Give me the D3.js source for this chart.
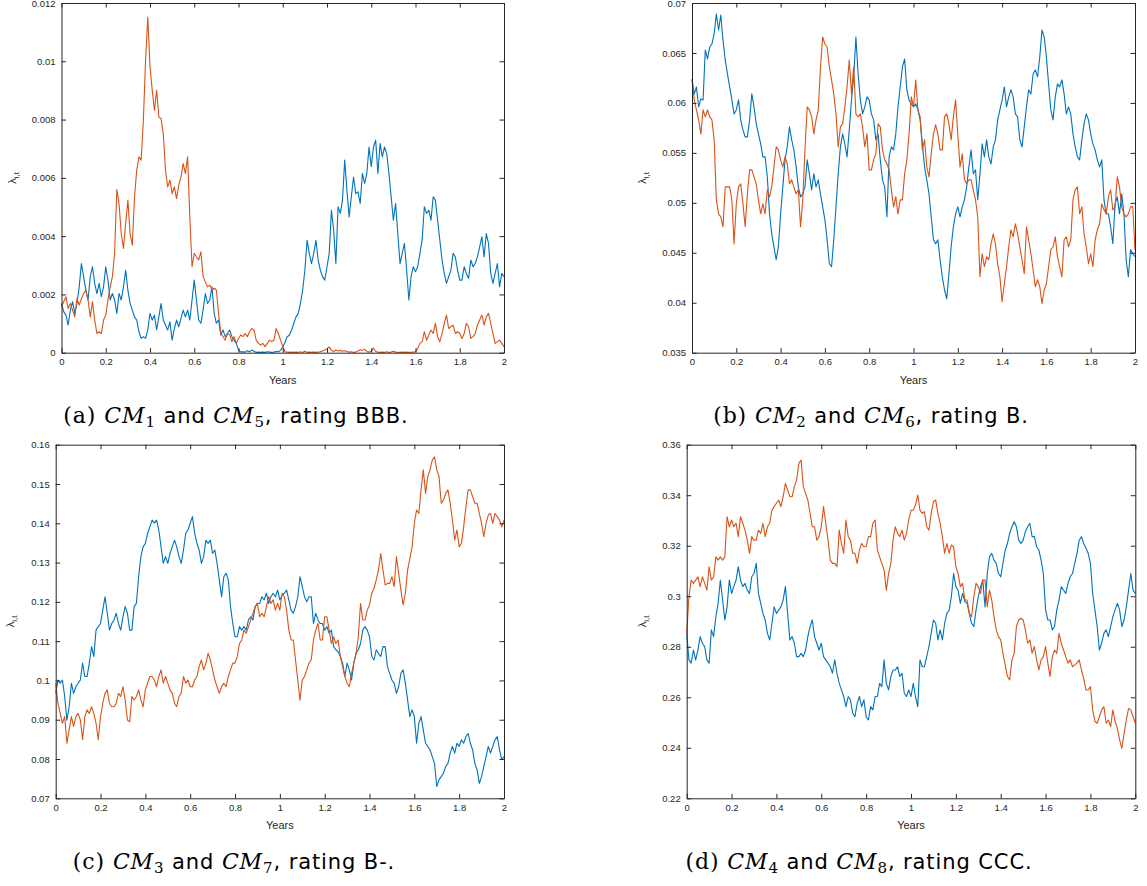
<!DOCTYPE html>
<html>
<head>
<meta charset="utf-8">
<script src="https://cdn.jsdelivr.net/npm/d3@7"></script>
<style>
  body { margin: 0; background: #fff; }
  svg { display: block; }
</style>
</head>
<body>
<svg id="fig" width="1147" height="886"></svg>
<script>
// Sampling grid (years), one point every 0.01 year
const years = d3.range(201).map(i => i / 100);
const xTicks = [0, 0.2, 0.4, 0.6, 0.8, 1, 1.2, 1.4, 1.6, 1.8, 2];

// Default intensities, rating BBB
const cm1 = [
  0.00169,0.00141,0.00129,0.00095,0.00146,0.00175,0.00135,0.00169,0.00226,0.00306,
  0.00261,0.00215,0.00181,0.00261,0.00295,0.00238,0.00203,0.00238,0.00192,0.00226,
  0.00295,0.00249,0.00181,0.00203,0.00181,0.00135,0.00203,0.00181,0.00226,0.00283,
  0.00215,0.00169,0.00146,0.00123,0.00112,0.00072,0.00049,0.00055,0.00049,0.00078,
  0.00135,0.00112,0.00129,0.00078,0.00123,0.00169,0.00112,0.00095,0.00078,0.00106,
  0.00043,0.00083,0.00112,0.00089,0.00118,0.00146,0.00123,0.00146,0.00112,0.00181,
  0.00249,0.00181,0.00112,0.00101,0.00146,0.00203,0.00169,0.00181,0.00226,0.00135,
  0.00101,0.00112,0.00061,0.00078,0.00055,0.00066,0.00078,0.00055,0.00043,0.00032,
  0.00009,0.00003,0.00003,0.00002,0.00007,0.00003,0.00009,0.00005,0.00001,0.00002,
  0.00001,0.00002,0.00001,0.00003,0.00002,0.00001,0.00002,0.00004,0.00003,0.00008,
  0.00020,0.00035,0.00055,0.00060,0.00078,0.00101,0.00123,0.00135,0.00169,0.00215,
  0.00283,0.00386,0.00341,0.00306,0.00341,0.00386,0.00318,0.00283,0.00261,0.00249,
  0.00295,0.00341,0.00489,0.00421,0.00306,0.00501,0.00478,0.00523,0.00661,0.00558,
  0.00466,0.00535,0.00603,0.00546,0.00552,0.00512,0.00615,0.00581,0.00615,0.00706,
  0.00638,0.00706,0.00729,0.00615,0.00718,0.00672,0.00706,0.00683,0.00615,0.00535,
  0.00455,0.00512,0.00409,0.00306,0.00341,0.00375,0.00283,0.00181,0.00261,0.00295,
  0.00278,0.00295,0.00341,0.00386,0.00501,0.00478,0.00489,0.00455,0.00535,0.00523,
  0.00455,0.00386,0.00318,0.00272,0.00238,0.00261,0.00283,0.00341,0.00329,0.00283,
  0.00249,0.00249,0.00295,0.00272,0.00255,0.00318,0.00295,0.00306,0.00329,0.00363,
  0.00398,0.00329,0.00409,0.00375,0.00272,0.00238,0.00272,0.00306,0.00226,0.00272,
  0.00261
];
const cm5 = [
  0.00158,0.00175,0.00192,0.00152,0.00169,0.00146,0.00123,0.00186,0.00163,0.00186,
  0.00203,0.00215,0.00181,0.00123,0.00175,0.00112,0.00066,0.00072,0.00066,0.00112,
  0.00129,0.00181,0.00226,0.00261,0.00340,0.00560,0.00512,0.00409,0.00358,0.00443,
  0.00523,0.00409,0.00369,0.00535,0.00626,0.00672,0.00661,0.00798,0.01003,0.01152,
  0.00981,0.00901,0.00832,0.00901,0.00809,0.00803,0.00752,0.00626,0.00569,0.00592,
  0.00546,0.00569,0.00529,0.00575,0.00603,0.00649,0.00615,0.00672,0.00466,0.00295,
  0.00341,0.00329,0.00318,0.00346,0.00261,0.00243,0.00226,0.00232,0.00215,0.00221,
  0.00215,0.00135,0.00066,0.00055,0.00043,0.00066,0.00061,0.00038,0.00055,0.00032,
  0.00049,0.00061,0.00055,0.00066,0.00055,0.00072,0.00083,0.00078,0.00043,0.00032,
  0.00026,0.00032,0.00021,0.00032,0.00043,0.00038,0.00043,0.00083,0.00066,0.00043,
  0.00021,0.00003,0.00002,0.00001,0.00002,0.00001,0.00002,0.00001,0.00003,0.00001,
  0.00005,0.00001,0.00002,0.00001,0.00002,0.00001,0.00002,0.00003,0.00006,0.00009,
  0.00014,0.00020,0.00008,0.00004,0.00009,0.00006,0.00008,0.00005,0.00007,0.00004,
  0.00002,0.00003,0.00001,0.00002,0.00006,0.00010,0.00008,0.00012,0.00004,0.00002,
  0.00005,0.00016,0.00004,0.00002,0.00001,0.00002,0.00001,0.00003,0.00001,0.00002,
  0.00005,0.00002,0.00001,0.00001,0.00002,0.00001,0.00002,0.00001,0.00001,0.00002,
  0.00003,0.00015,0.00032,0.00038,0.00072,0.00043,0.00061,0.00078,0.00066,0.00101,
  0.00055,0.00038,0.00066,0.00101,0.00129,0.00083,0.00089,0.00095,0.00066,0.00072,
  0.00066,0.00049,0.00066,0.00101,0.00089,0.00049,0.00055,0.00066,0.00095,0.00112,
  0.00129,0.00095,0.00123,0.00135,0.00101,0.00066,0.00032,0.00038,0.00043,0.00032,
  0.00021
];

// Default intensities, rating B
const cm2 = [
  0.0624,0.0609,0.0616,0.0596,0.0604,0.0603,0.0653,0.0644,0.0656,0.0659,
  0.0669,0.0689,0.0673,0.0688,0.0663,0.0643,0.0629,0.0616,0.0603,0.0589,
  0.0593,0.0603,0.0583,0.0573,0.0566,0.0566,0.0583,0.0609,0.0596,0.0579,
  0.0569,0.0559,0.0546,0.0546,0.0526,0.0489,0.0469,0.0456,0.0443,0.0456,
  0.0489,0.0516,0.0543,0.0556,0.0576,0.0563,0.0553,0.0536,0.0516,0.0506,
  0.0509,0.0516,0.0543,0.0529,0.0513,0.0529,0.0516,0.0523,0.0509,0.0496,
  0.0483,0.0463,0.0439,0.0436,0.0463,0.0496,0.0529,0.0556,0.0569,0.0559,
  0.0546,0.0573,0.0603,0.0626,0.0666,0.0629,0.0603,0.0589,0.0596,0.0606,
  0.0603,0.0589,0.0583,0.0563,0.0569,0.0543,0.0523,0.0516,0.0486,0.0546,
  0.0556,0.0553,0.0569,0.0596,0.0616,0.0636,0.0644,0.0613,0.0603,0.0599,
  0.0596,0.0599,0.0593,0.0583,0.0559,0.0536,0.0523,0.0509,0.0486,0.0463,
  0.0459,0.0463,0.0443,0.0426,0.0413,0.0404,0.0429,0.0456,0.0476,0.0489,
  0.0496,0.0486,0.0496,0.0503,0.0516,0.0536,0.0553,0.0529,0.0533,0.0503,
  0.0529,0.0559,0.0546,0.0563,0.0546,0.0539,0.0556,0.0563,0.0583,0.0593,
  0.0603,0.0616,0.0596,0.0606,0.0613,0.0606,0.0589,0.0586,0.0563,0.0556,
  0.0576,0.0596,0.0613,0.0609,0.0629,0.0633,0.0626,0.0646,0.0673,0.0666,
  0.0646,0.0619,0.0593,0.0583,0.0606,0.0619,0.0616,0.0623,0.0609,0.0589,
  0.0596,0.0589,0.0569,0.0556,0.0546,0.0543,0.0563,0.0579,0.0589,0.0583,
  0.0569,0.0559,0.0553,0.0543,0.0536,0.0543,0.0503,0.0489,0.0489,0.0476,
  0.0459,0.0499,0.0506,0.0489,0.0509,0.0489,0.0443,0.0426,0.0453,0.0449,
  0.0446
];
const cm6 = [
  0.0623,0.0603,0.0593,0.0583,0.0569,0.0593,0.0586,0.0593,0.0586,0.0583,
  0.0563,0.0503,0.0489,0.0486,0.0476,0.0516,0.0516,0.0516,0.0503,0.0459,
  0.0499,0.0516,0.0519,0.0499,0.0476,0.0509,0.0533,0.0533,0.0526,0.0519,
  0.0503,0.0489,0.0499,0.0489,0.0513,0.0506,0.0516,0.0536,0.0556,0.0553,
  0.0543,0.0536,0.0546,0.0539,0.0519,0.0523,0.0516,0.0509,0.0513,0.0476,
  0.0503,0.0553,0.0596,0.0593,0.0586,0.0569,0.0583,0.0593,0.0636,0.0666,
  0.0659,0.0656,0.0636,0.0623,0.0609,0.0589,0.0556,0.0576,0.0579,0.0596,
  0.0616,0.0643,0.0609,0.0636,0.0589,0.0586,0.0589,0.0576,0.0556,0.0569,
  0.0533,0.0533,0.0543,0.0549,0.0579,0.0576,0.0553,0.0543,0.0539,0.0533,
  0.0513,0.0496,0.0506,0.0489,0.0503,0.0503,0.0529,0.0543,0.0569,0.0606,
  0.0596,0.0623,0.0593,0.0586,0.0553,0.0563,0.0536,0.0526,0.0549,0.0569,
  0.0578,0.0569,0.0553,0.0553,0.0586,0.0589,0.0579,0.0563,0.0586,0.0603,
  0.0569,0.0536,0.0549,0.0523,0.0519,0.0523,0.0523,0.0513,0.0503,0.0486,
  0.0426,0.0449,0.0436,0.0446,0.0443,0.0459,0.0469,0.0459,0.0439,0.0426,
  0.0401,0.0419,0.0436,0.0456,0.0473,0.0466,0.0479,0.0469,0.0456,0.0443,
  0.0429,0.0476,0.0463,0.0449,0.0433,0.0416,0.0423,0.0416,0.0399,0.0413,
  0.0419,0.0436,0.0453,0.0456,0.0466,0.0446,0.0436,0.0426,0.0463,0.0466,
  0.0456,0.0463,0.0503,0.0513,0.0516,0.0489,0.0496,0.0469,0.0456,0.0439,
  0.0449,0.0436,0.0463,0.0473,0.0479,0.0499,0.0493,0.0489,0.0506,0.0513,
  0.0493,0.0496,0.0526,0.0516,0.0496,0.0489,0.0486,0.0489,0.0496,0.0496,
  0.0453
];

// Default intensities, rating B-
const cm3 = [
  0.0967,0.1001,0.0993,0.1001,0.0959,0.0899,0.0933,0.0993,0.0967,0.0984,
  0.0993,0.1001,0.1044,0.1010,0.1010,0.1044,0.1086,0.1061,0.1128,0.1137,
  0.1145,0.1179,0.1213,0.1171,0.1128,0.1145,0.1154,0.1171,0.1145,0.1128,
  0.1162,0.1188,0.1171,0.1128,0.1128,0.1188,0.1196,0.1264,0.1315,0.1340,
  0.1349,0.1374,0.1391,0.1408,0.1400,0.1408,0.1383,0.1340,0.1298,0.1315,
  0.1298,0.1323,0.1340,0.1357,0.1340,0.1315,0.1298,0.1332,0.1374,0.1383,
  0.1400,0.1417,0.1374,0.1349,0.1332,0.1298,0.1315,0.1357,0.1349,0.1357,
  0.1323,0.1332,0.1298,0.1256,0.1213,0.1264,0.1273,0.1256,0.1188,0.1145,
  0.1111,0.1111,0.1137,0.1128,0.1137,0.1128,0.1154,0.1162,0.1154,0.1188,
  0.1196,0.1196,0.1213,0.1205,0.1222,0.1196,0.1213,0.1222,0.1213,0.1230,
  0.1205,0.1217,0.1222,0.1230,0.1205,0.1179,0.1171,0.1188,0.1213,0.1264,
  0.1239,0.1213,0.1200,0.1213,0.1213,0.1145,0.1171,0.1154,0.1145,0.1145,
  0.1128,0.1137,0.1120,0.1128,0.1086,0.1078,0.1073,0.1061,0.1044,0.1010,
  0.1044,0.1027,0.1001,0.1044,0.1069,0.1078,0.1094,0.1128,0.1137,0.1128,
  0.1111,0.1061,0.1052,0.1078,0.1069,0.1061,0.1086,0.1086,0.1035,0.1018,
  0.1001,0.0993,0.0967,0.0984,0.1018,0.1027,0.0993,0.0950,0.0908,0.0925,
  0.0908,0.0840,0.0891,0.0908,0.0874,0.0840,0.0832,0.0823,0.0806,0.0789,
  0.0730,0.0747,0.0755,0.0764,0.0781,0.0789,0.0815,0.0832,0.0815,0.0840,
  0.0832,0.0849,0.0840,0.0857,0.0865,0.0840,0.0823,0.0789,0.0772,0.0738,
  0.0755,0.0781,0.0806,0.0832,0.0815,0.0832,0.0849,0.0857,0.0823,0.0798,
  0.0806
];
const cm7 = [
  0.0993,0.0942,0.0916,0.0891,0.0908,0.0840,0.0874,0.0908,0.0883,0.0908,
  0.0916,0.0899,0.0849,0.0908,0.0925,0.0916,0.0933,0.0916,0.0891,0.0849,
  0.0908,0.0942,0.0967,0.0976,0.0942,0.0933,0.0933,0.0942,0.0967,0.0959,
  0.0984,0.0950,0.0899,0.0895,0.0959,0.0950,0.0959,0.0976,0.0950,0.0933,
  0.0976,0.0993,0.1010,0.1010,0.1001,0.0984,0.1010,0.1027,0.0993,0.1010,
  0.0993,0.0976,0.0967,0.0942,0.0933,0.0959,0.0967,0.1010,0.0993,0.1001,
  0.0984,0.0984,0.1001,0.1010,0.1035,0.1052,0.1027,0.1044,0.1069,0.1052,
  0.1027,0.1001,0.0984,0.0967,0.0984,0.0993,0.0984,0.1010,0.1027,0.1044,
  0.1044,0.1061,0.1094,0.1103,0.1128,0.1120,0.1137,0.1154,0.1171,0.1188,
  0.1196,0.1162,0.1171,0.1162,0.1188,0.1213,0.1196,0.1205,0.1179,0.1196,
  0.1179,0.1222,0.1213,0.1179,0.1128,0.1103,0.1103,0.1052,0.1001,0.0950,
  0.1001,0.1010,0.1027,0.1044,0.1052,0.1103,0.1128,0.1145,0.1103,0.1103,
  0.1162,0.1162,0.1128,0.1094,0.1111,0.1094,0.1103,0.1061,0.1035,0.1010,
  0.0993,0.0984,0.1018,0.1044,0.1069,0.1111,0.1196,0.1154,0.1154,0.1179,
  0.1192,0.1222,0.1234,0.1256,0.1281,0.1323,0.1281,0.1243,0.1247,0.1247,
  0.1264,0.1239,0.1315,0.1273,0.1230,0.1192,0.1222,0.1281,0.1311,0.1340,
  0.1400,0.1434,0.1425,0.1485,0.1536,0.1476,0.1519,0.1536,0.1561,0.1569,
  0.1536,0.1519,0.1451,0.1459,0.1476,0.1485,0.1451,0.1408,0.1357,0.1383,
  0.1340,0.1349,0.1391,0.1442,0.1485,0.1485,0.1468,0.1451,0.1451,0.1425,
  0.1400,0.1366,0.1400,0.1421,0.1425,0.1400,0.1425,0.1417,0.1408,0.1391,
  0.1408
];

// Default intensities, rating CCC
const cm4 = [
  0.2853,0.2748,0.2735,0.2787,0.2748,0.2787,0.2840,0.2814,0.2801,0.2748,
  0.2735,0.2867,0.2840,0.2919,0.2972,0.3064,0.2985,0.2906,0.2958,0.3064,
  0.3011,0.3038,0.3064,0.3117,0.3064,0.3038,0.3051,0.3024,0.3011,0.3077,
  0.3090,0.3130,0.3011,0.2972,0.2932,0.2906,0.2853,0.2827,0.2893,0.2958,
  0.2932,0.2945,0.2958,0.2985,0.3038,0.2932,0.2827,0.2840,0.2814,0.2761,
  0.2761,0.2774,0.2761,0.2787,0.2840,0.2880,0.2906,0.2840,0.2814,0.2787,
  0.2814,0.2761,0.2748,0.2735,0.2721,0.2695,0.2748,0.2695,0.2655,0.2629,
  0.2603,0.2563,0.2603,0.2590,0.2537,0.2523,0.2576,0.2603,0.2563,0.2590,
  0.2523,0.2510,0.2563,0.2550,0.2603,0.2603,0.2655,0.2642,0.2748,0.2655,
  0.2629,0.2682,0.2708,0.2708,0.2721,0.2682,0.2695,0.2616,0.2603,0.2629,
  0.2603,0.2655,0.2603,0.2563,0.2748,0.2721,0.2721,0.2761,0.2801,0.2853,
  0.2906,0.2893,0.2827,0.2867,0.2827,0.2893,0.2932,0.2945,0.2998,0.3090,
  0.3038,0.3024,0.2972,0.3011,0.2979,0.2972,0.2932,0.2893,0.2880,0.2945,
  0.2998,0.3038,0.3064,0.2958,0.3090,0.3156,0.3170,0.3143,0.3130,0.3090,
  0.3077,0.3130,0.3183,0.3209,0.3249,0.3275,0.3295,0.3275,0.3222,0.3209,
  0.3222,0.3256,0.3275,0.3289,0.3236,0.3236,0.3196,0.3183,0.3143,0.3090,
  0.2946,0.2906,0.2906,0.2867,0.2880,0.2946,0.2985,0.3038,0.3024,0.3011,
  0.3051,0.3077,0.3090,0.3130,0.3170,0.3222,0.3236,0.3209,0.3190,0.3170,
  0.3130,0.3011,0.2946,0.2880,0.2787,0.2814,0.2853,0.2867,0.2840,0.2880,
  0.2919,0.2946,0.2972,0.2946,0.2880,0.2906,0.2958,0.3024,0.3090,0.3024,
  0.3011
];
const cm8 = [
  0.2853,0.2998,0.3064,0.3051,0.3064,0.3077,0.3038,0.3077,0.3051,0.3024,
  0.3117,0.3064,0.3077,0.3156,0.3143,0.3156,0.3143,0.3156,0.3315,0.3275,
  0.3302,0.3275,0.3289,0.3236,0.3315,0.3289,0.3262,0.3222,0.3170,0.3236,
  0.3222,0.3222,0.3262,0.3249,0.3289,0.3236,0.3275,0.3289,0.3341,0.3355,
  0.3368,0.3381,0.3355,0.3394,0.3447,0.3421,0.3394,0.3394,0.3434,0.3460,
  0.3526,0.3539,0.3434,0.3407,0.3381,0.3328,0.3275,0.3275,0.3222,0.3236,
  0.3275,0.3355,0.3289,0.3222,0.3143,0.3130,0.3130,0.3117,0.3262,0.3209,
  0.3170,0.3302,0.3236,0.3222,0.3170,0.3170,0.3130,0.3183,0.3209,0.3196,
  0.3196,0.3236,0.3236,0.3289,0.3302,0.3183,0.3156,0.3130,0.3104,0.3024,
  0.3090,0.3130,0.3222,0.3275,0.3249,0.3236,0.3262,0.3222,0.3249,0.3302,
  0.3340,0.3341,0.3361,0.3401,0.3341,0.3328,0.3335,0.3275,0.3262,0.3328,
  0.3374,0.3381,0.3328,0.3289,0.3236,0.3170,0.3209,0.3170,0.3203,0.3196,
  0.3117,0.3090,0.3038,0.3051,0.2985,0.2985,0.2932,0.2919,0.2998,0.3051,
  0.3038,0.3011,0.3064,0.3064,0.2958,0.3024,0.2985,0.2919,0.2867,0.2840,
  0.2827,0.2774,0.2728,0.2682,0.2669,0.2748,0.2774,0.2880,0.2906,0.2913,
  0.2906,0.2867,0.2814,0.2827,0.2774,0.2801,0.2748,0.2708,0.2748,0.2761,
  0.2801,0.2735,0.2682,0.2761,0.2787,0.2774,0.2853,0.2814,0.2787,0.2761,
  0.2735,0.2748,0.2721,0.2728,0.2735,0.2748,0.2708,0.2675,0.2629,0.2629,
  0.2642,0.2550,0.2504,0.2497,0.2523,0.2550,0.2563,0.2497,0.2510,0.2484,
  0.2550,0.2504,0.2477,0.2431,0.2398,0.2457,0.2510,0.2556,0.2550,0.2523,
  0.2497
];

// Y tick values for each panel
const yTicksA = [0, 0.002, 0.004, 0.006, 0.008, 0.01, 0.012];
const yTicksB = [0.035, 0.04, 0.045, 0.05, 0.055, 0.06, 0.065, 0.07];
const yTicksC = [0.07, 0.08, 0.09, 0.1, 0.11, 0.12, 0.13, 0.14, 0.15, 0.16];
const yTicksD = [0.22, 0.24, 0.26, 0.28, 0.3, 0.32, 0.34, 0.36];

// Caption pieces
const captionLetters = ["a", "b", "c", "d"];
const firstIndex = ["1", "2", "3", "4"];
const secondIndex = ["5", "6", "7", "8"];
const ratings = ["BBB", "B", "B-", "CCC"];

const BLUE = "#0072BD";
const ORANGE = "#D95319";
const AXIS = "#262626";
const SERIF = "'DejaVu Serif', 'Liberation Serif', serif";
const SANS_CAP = "'DejaVu Sans', 'Liberation Sans', sans-serif";
const SANS = "'Liberation Sans', Arial, sans-serif";

const panels = [
  { box: { left: 61.5, top: 3, right: 504, bottom: 352.7 }, yDomain: [0, 0.012], yTicks: yTicksA,
    series: [cm1, cm5], yLabelX: 16, caption: { cx: 236, y: 423 } },
  { box: { left: 692, top: 3, right: 1135, bottom: 352.7 }, yDomain: [0.035, 0.07], yTicks: yTicksB,
    series: [cm2, cm6], yLabelX: 646, caption: { cx: 871, y: 423 } },
  { box: { left: 55.7, top: 444.7, right: 504, bottom: 798.3 }, yDomain: [0.07, 0.16], yTicks: yTicksC,
    series: [cm3, cm7], yLabelX: 14, caption: { cx: 234, y: 869 } },
  { box: { left: 686.7, top: 444.7, right: 1135.3, bottom: 798.3 }, yDomain: [0.22, 0.36], yTicks: yTicksD,
    series: [cm4, cm8], yLabelX: 646, caption: { cx: 859, y: 869 } }
];

const svg = d3.select("#fig");
const fmt = d3.format("~g");
const TICK = 4.5;
const CAPTION_SPACING = 0.9;

panels.forEach((p, i) => {
  const b = p.box;
  const x = d3.scaleLinear().domain([0, 2]).range([b.left, b.right]);
  const y = d3.scaleLinear().domain(p.yDomain).range([b.bottom, b.top]);
  const g = svg.append("g").attr("class", "panel");

  // data lines: first series blue, second orange on top
  const line = d3.line().x((d, k) => x(years[k])).y(d => y(d));
  [BLUE, ORANGE].forEach((c, s) => {
    g.append("path")
      .datum(p.series[s])
      .attr("d", line)
      .attr("fill", "none")
      .attr("stroke", c)
      .attr("stroke-width", 1.1)
      .attr("stroke-linejoin", "round");
  });

  // axes with inward ticks on all four sides
  const styleAxis = sel => {
    sel.selectAll("path.domain").attr("stroke", AXIS).attr("stroke-width", 1);
    sel.selectAll(".tick line").attr("stroke", AXIS).attr("stroke-width", 1);
    sel.selectAll(".tick text").attr("fill", AXIS).style("font-family", SANS).style("font-size", "9.5px");
  };
  g.append("g").attr("transform", `translate(0,${b.bottom})`)
    .call(d3.axisBottom(x).tickValues(xTicks).tickFormat(fmt).tickSizeInner(-TICK).tickSizeOuter(0).tickPadding(6))
    .call(styleAxis);
  g.append("g").attr("transform", `translate(0,${b.top})`)
    .call(d3.axisTop(x).tickValues(xTicks).tickFormat("").tickSizeInner(-TICK).tickSizeOuter(0))
    .call(styleAxis);
  g.append("g").attr("transform", `translate(${b.left},0)`)
    .call(d3.axisLeft(y).tickValues(p.yTicks).tickFormat(fmt).tickSizeInner(-TICK).tickSizeOuter(0).tickPadding(6))
    .call(styleAxis);
  g.append("g").attr("transform", `translate(${b.right},0)`)
    .call(d3.axisRight(y).tickValues(p.yTicks).tickFormat("").tickSizeInner(-TICK).tickSizeOuter(0))
    .call(styleAxis);

  // axis titles
  g.append("text")
    .attr("x", (b.left + b.right) / 2)
    .attr("y", b.bottom + 31)
    .attr("text-anchor", "middle")
    .attr("fill", AXIS)
    .style("font-family", SANS)
    .style("font-size", "11px")
    .text("Years");

  const yl = g.append("text")
    .attr("transform", `translate(${p.yLabelX},${(b.top + b.bottom) / 2}) rotate(-90)`)
    .attr("text-anchor", "middle")
    .attr("fill", AXIS)
    .style("font-family", SANS)
    .style("font-size", "11px");
  yl.append("tspan").text("λ");
  yl.append("tspan").attr("dy", 3).style("font-size", "8px").text("i,t");

  // sub-figure caption
  const cap = svg.append("text")
    .attr("x", p.caption.cx)
    .attr("y", p.caption.y)
    .attr("text-anchor", "middle")
    .attr("fill", "#000")
    .style("font-size", "22px")
    .style("letter-spacing", `${CAPTION_SPACING}px`);
  cap.append("tspan").style("font-family", SERIF).text(`(${captionLetters[i]})\u00a0`);
  cap.append("tspan").style("font-family", SERIF).style("font-style", "italic").text("CM");
  cap.append("tspan").style("font-family", SERIF).style("font-size", "15px").attr("dy", 4).text(firstIndex[i]);
  cap.append("tspan").style("font-family", SANS_CAP).style("font-size", "21px").attr("dy", -4).text("\u00a0and\u00a0");
  cap.append("tspan").style("font-family", SERIF).style("font-style", "italic").text("CM");
  cap.append("tspan").style("font-family", SERIF).style("font-size", "15px").attr("dy", 4).text(secondIndex[i]);
  cap.append("tspan").style("font-family", SANS_CAP).style("font-size", "21px").attr("dy", -4).text(`,\u00a0rating\u00a0${ratings[i]}.`);
});
</script>
</body>
</html>
